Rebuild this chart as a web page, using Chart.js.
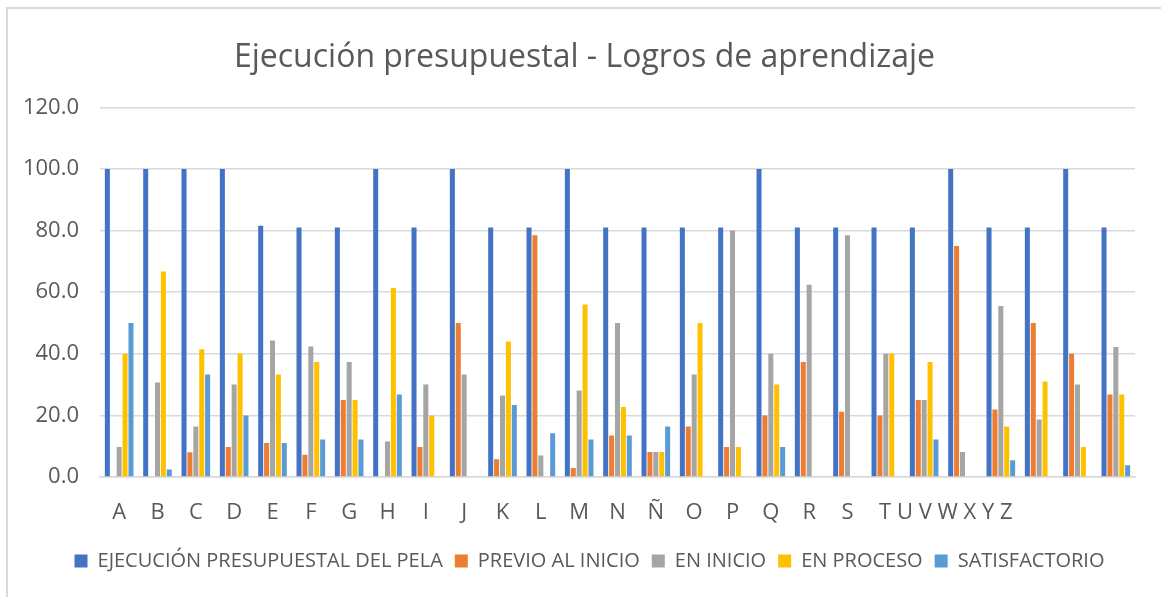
<!DOCTYPE html>
<html>
<head>
<meta charset="utf-8">
<script src="https://cdn.jsdelivr.net/npm/chart.js@4.4.0/dist/chart.umd.min.js"></script>
<style>
  html, body { margin: 0; padding: 0; background: #ffffff; overflow: hidden; }
  #frame { position: absolute; left: 6px; top: 7px; width: 1300px; height: 800px;
           border-top: 2px solid #d9d9d9; border-left: 2px solid #d9d9d9; }
  #c { position: absolute; left: 0; top: 0; }
</style>
</head>
<body>
<div id="frame"></div>
<canvas id="c" width="1161" height="597"></canvas>
<script>
// ---- data ----
const categories = ['A','B','C','D','E','F','G','H','I','J','K','L','M','N','Ñ','O','P','Q','R','S',
                    'T U V W X Y Z','','','','','',''];
const seriesNames = ['EJECUCIÓN PRESUPUESTAL DEL PELA','PREVIO AL INICIO','EN INICIO','EN PROCESO','SATISFACTORIO'];
const ejecucion     = [100,100,100,100,81.6,81.0,81.0,100,81.0,100,81.0,81.0,100,81.0,81.0,81.0,81.0,100,81.0,81.0,81.0,81.0,100,81.0,81.0,100,81.0];
const previoInicio  = [0,0,8.0,9.7,11.0,7.2,25.0,0,9.7,50.0,5.8,78.5,2.9,13.5,8.1,16.4,9.7,20.0,37.3,21.2,20.0,25.0,75.0,21.9,50.0,40.0,26.8];
const enInicio      = [9.7,30.7,16.4,30.0,44.3,42.4,37.3,11.5,30.0,33.3,26.5,7.0,28.1,50.0,8.1,33.3,80.0,40.0,62.4,78.5,40.0,25.0,8.1,55.5,18.7,30.0,42.2];
const enProceso     = [40.0,66.7,41.5,40.0,33.3,37.3,25.0,61.4,20.0,0,44.0,0,56.0,22.7,8.1,50.0,9.7,30.0,0,0,40.0,37.3,0,16.4,31.0,9.7,26.8];
const satisfactorio = [50.0,2.4,33.3,20.0,11.0,12.2,12.2,26.8,0,0,23.4,14.2,12.2,13.5,16.4,0,0,9.7,0,0,0,12.2,0,5.4,0,0,3.8];
const yTicks = [0,20,40,60,80,100,120];
const titleText = 'Ejecución presupuestal - Logros de aprendizaje';

const colors = ['#4472C4','#ED7D31','#A5A5A5','#FFC000','#5B9BD5'];
const FONT = "'Open Sans', 'Noto Sans', sans-serif";
const TXT = '#595959';
const tickFontSize = 22;

// leading-space padding so that the long label starts near its category centre
const mctx = document.createElement('canvas').getContext('2d');
mctx.font = tickFontSize + "px 'Open Sans'";
function padLabel(lbl) {
  if (lbl.length <= 1) return lbl;
  const w = mctx.measureText(lbl).width;
  const sp = mctx.measureText(' ').width;
  const n = Math.max(0, Math.round((w - 12) / sp));
  return ' '.repeat(n) + lbl;
}

// nudge title and legend boxes horizontally (the reference centres them off the canvas centre)
const boxShift = {
  id: 'boxShift',
  afterLayout(chart) {
    if (chart.titleBlock) { chart.titleBlock.left += 17; chart.titleBlock.right += 17; }
    if (chart.legend) { chart.legend.left += 22; chart.legend.right += 22; }
  }
};

const allSeries = [ejecucion, previoInicio, enInicio, enProceso, satisfactorio];

new Chart(document.getElementById('c'), {
  type: 'bar',
  data: {
    labels: categories,
    datasets: allSeries.map((d, i) => ({
      label: seriesNames[i],
      data: d,
      backgroundColor: colors[i],
      borderWidth: 0,
      categoryPercentage: 0.77,
      barPercentage: 0.85
    }))
  },
  plugins: [boxShift],
  options: {
    responsive: false,
    animation: false,
    layout: { padding: { left: 0, right: 26, top: 0, bottom: 16 } },
    plugins: {
      title: {
        display: true,
        text: titleText,
        color: TXT,
        font: { family: FONT, size: 32, weight: 'normal' },
        padding: { top: 39, bottom: 30 }
      },
      legend: {
        position: 'bottom',
        labels: {
          color: TXT,
          font: { family: FONT, size: 20 },
          boxWidth: 13,
          boxHeight: 13,
          padding: 12
        }
      },
      tooltip: { enabled: false }
    },
    scales: {
      x: {
        grid: { display: false },
        border: { display: true, color: '#d9d9d9', width: 1.5 },
        ticks: {
          color: TXT,
          font: { family: FONT, size: tickFontSize },
          padding: 15,
          autoSkip: false,
          maxRotation: 0,
          callback: function(v, i) { return padLabel(categories[i]); }
        },
        afterFit: function(s) { s.height = 62; }
      },
      y: {
        min: 0,
        max: 120,
        afterBuildTicks: function(s) { s.ticks = yTicks.map(v => ({ value: v })); },
        grid: { color: '#d9d9d9', lineWidth: 1.5, drawTicks: false },
        border: { display: false },
        ticks: {
          color: TXT,
          font: { family: FONT, size: tickFontSize },
          padding: 21,
          callback: function(v) { return Number(v).toFixed(1); }
        },
        afterFit: function(s) { s.width = 100; }
      }
    }
  }
});
</script>
</body>
</html>
